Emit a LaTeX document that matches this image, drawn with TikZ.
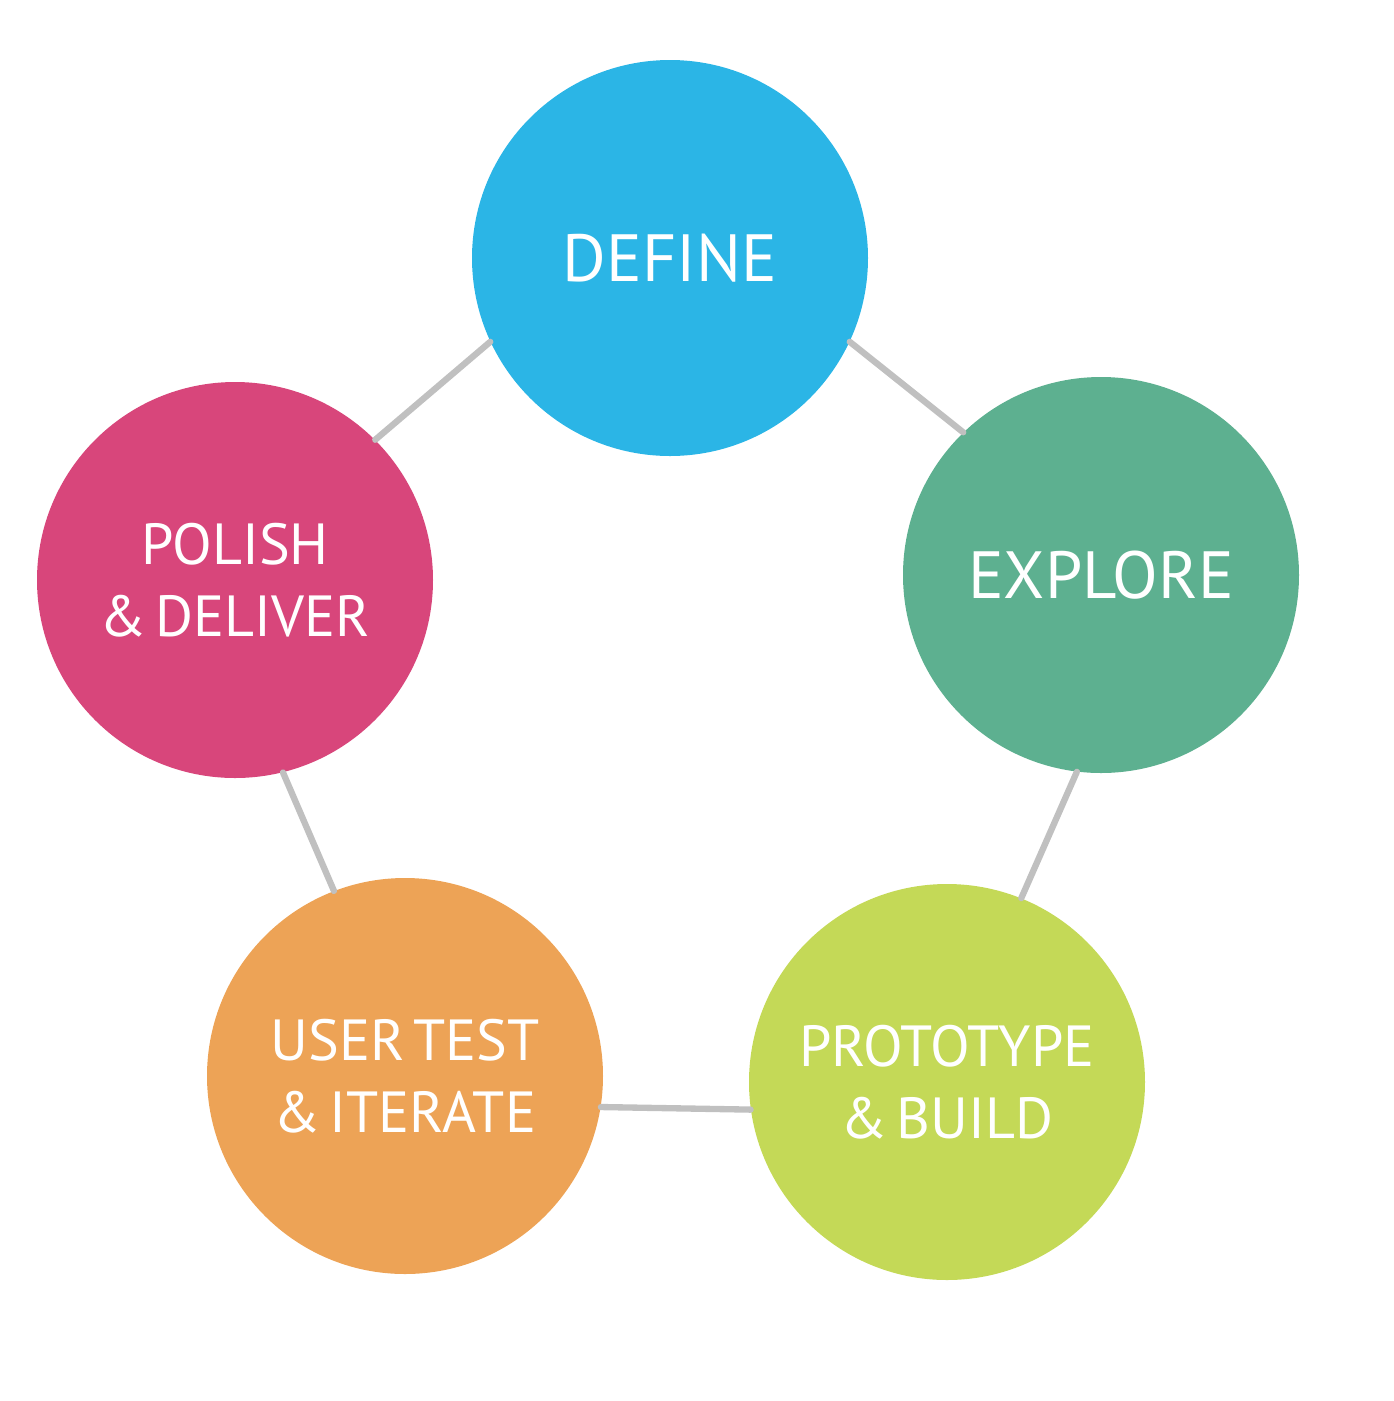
\documentclass[tikz,border=0pt]{standalone}
\usepackage{fontspec}
\setmainfont[WordSpace=0.55]{PT Sans}
\definecolor{cdef}{HTML}{2BB5E6}
\definecolor{cexp}{HTML}{5DB090}
\definecolor{cpro}{HTML}{C4D957}
\definecolor{cuse}{HTML}{EDA356}
\definecolor{cpol}{HTML}{D8467B}
\definecolor{clink}{HTML}{C0C0C0}
\begin{document}
\begin{tikzpicture}[line cap=round,
    stage/.style={circle,inner sep=0pt,minimum size=7.92cm,text=white,align=center,font=\fontsize{33}{41}\selectfont},
    big/.style={font=\fontsize{38}{44}\selectfont},
    link/.style={draw=clink,line width=3.6pt}]
    \useasboundingbox (0,0) rectangle (27.88,-28.02);
    \path (13.4,-5.16)node[stage,big,fill=cdef] (A){DEFINE}
    (22.02,-11.5)node[stage,big,fill=cexp] (B){EXPLORE}
    (18.94,-21.64)node[stage,fill=cpro] (C){PROTOTYPE\\\& BUILD}
    (8.1,-21.52)node[stage,fill=cuse] (D){USER TEST\\\& ITERATE}
    (4.7,-11.6)node[stage,fill=cpol] (E){POLISH\\\& DELIVER}
    ;
    \draw[link](A.-25)--(B.134);
    \draw[link](B.263)--(C.68);
    \draw[link](C.188)--(D.-9);
    \draw[link](D.111)--(E.-76);
    \draw[link](E.45)--(A.205);
\end{tikzpicture}
\end{document}
